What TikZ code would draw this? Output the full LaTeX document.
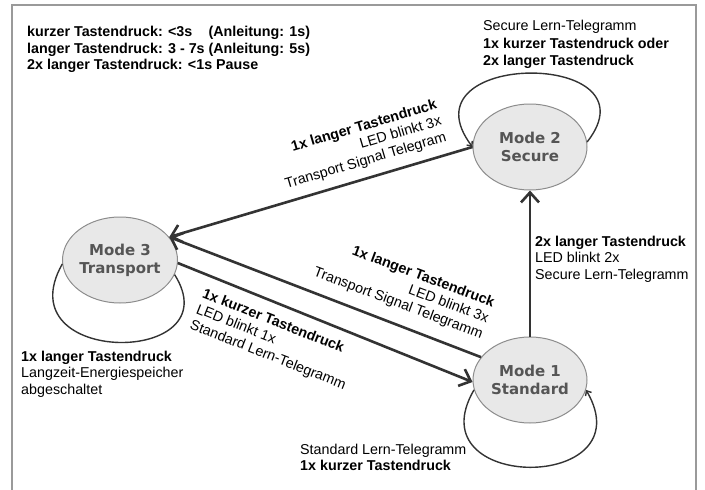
\documentclass[tikz,border=0pt]{standalone}
\usepackage{fontspec}
\setmainfont{Liberation Sans}
\newfontfamily\modefont{DejaVu Sans}
\usetikzlibrary{arrows.meta, shapes.geometric}
\definecolor{framegray}{HTML}{9A9A9A}
\definecolor{nodefill}{HTML}{E8E8E8}
\definecolor{nodeedge}{HTML}{8C8C8C}
\definecolor{nodetext}{HTML}{555555}
\definecolor{linedark}{HTML}{333333}

\begin{document}
\begin{tikzpicture}[x=1pt,y=-1pt,
  modenode/.style={ellipse,draw=nodeedge,fill=nodefill,line width=1pt,minimum width=114pt,minimum height=86pt,inner sep=0pt,align=center,text=nodetext,font=\modefont\bfseries\fontsize{15}{18}\selectfont},
  txt/.style={inner sep=0pt,align=left,anchor=north west,font=\fontsize{14.3}{16.5}\selectfont},
  lbl/.style={inner sep=0pt,font=\fontsize{14.3}{16.8}\selectfont},
  trans/.style={draw=linedark,line width=2.6pt,-{Straight Barb[length=10pt,width=18pt]}},
  selfloop/.style={draw=linedark,line width=1.4pt,-{Straight Barb[length=4pt,width=7pt]}}]

\useasboundingbox (0,0) rectangle (705,490);
\draw[framegray,line width=1.5pt] (12,495) -- (12,5) -- (696,5) -- (696,495); %frame

% the three modes
\node[modenode] (m1) at (530,380) {Mode 1\\Standard};
\node[modenode] (m2) at (530,147) {Mode 2\\Secure};
\node[modenode] (m3) at (120,260) {Mode 3\\Transport};

% transitions
\draw[trans] (m2.west) -- (m3.25);
\draw[trans] (m1.155) -- (m3.25);
\draw[trans] (m3.-3) -- (m1.182);
\draw[trans] (m1.north) -- (m2.south);

% self loops
\draw[selfloop] (m2.5) .. controls +(73,-93) and +(-73,-97) .. (m2.west);
\draw[selfloop] (m1.190) .. controls +(-60,103) and +(60,103) .. (m1.350);
\draw[selfloop,-] (m3.184) .. controls +(-58,103) and +(58,92) .. (m3.345);

% legend
\node[txt,font=\bfseries\fontsize{14.3}{16.5}\selectfont] (legend) at (27,25) {%
\begin{tabular}{@{}l@{ }l}
kurzer Tastendruck: <3s & (Anleitung: 1s)\\
langer Tastendruck: 3 - 7s & (Anleitung: 5s)\\
\multicolumn{2}{@{}l}{2x langer Tastendruck: <1s Pause}
\end{tabular}};

% loop and transition labels
\node[txt,font=\fontsize{14.3}{17.5}\selectfont] (secinfo) at (483,20) {Secure Lern-Telegramm\\\textbf{1x kurzer Tastendruck oder}\\\textbf{2x langer Tastendruck}};
\node[txt] (m3info) at (21,350.6) {\textbf{1x langer Tastendruck}\\Langzeit-Energiespeicher\\abgeschaltet};
\node[txt] (m1info) at (300,443.6) {Standard Lern-Telegramm\\\textbf{1x kurzer Tastendruck}};
\node[txt] (upinfo) at (535,235.6) {\textbf{2x langer Tastendruck}\\LED blinkt 2x\\Secure Lern-Telegramm};

\node[lbl,align=right,rotate=16.5] (toM3a) at (361,145) {\textbf{1x langer Tastendruck}\\LED blinkt 3x\\Transport Signal Telegram};
\node[lbl,align=right,rotate=-20.5] (toM3b) at (404,288) {\textbf{1x langer Tastendruck}\\LED blinkt 3x\\Transport Signal Telegramm};
\node[lbl,align=left,rotate=-21.5] (toM1) at (274,340) {\textbf{1x kurzer Tastendruck}\\LED blinkt 1x\\Standard Lern-Telegramm};

\end{tikzpicture}
\end{document}
